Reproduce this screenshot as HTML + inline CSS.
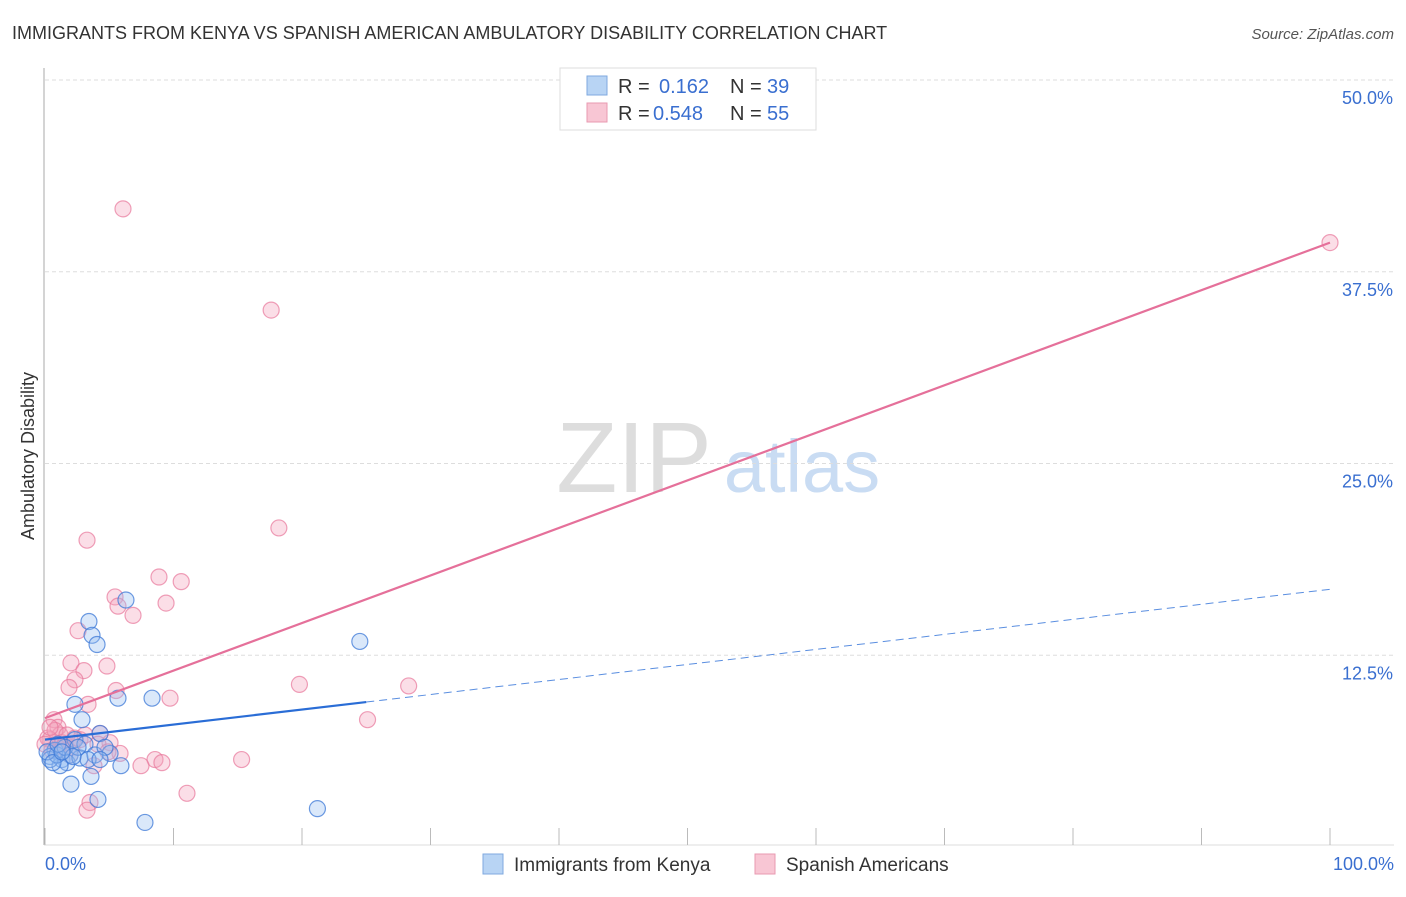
<!DOCTYPE html>
<html><head><meta charset="utf-8"><style>
body{margin:0;background:#fff;font-family:"Liberation Sans",sans-serif}
svg text{font-family:"Liberation Sans",sans-serif}
</style></head><body>
<svg id="chart" width="1406" height="892">
<text x="12" y="39" font-size="18" fill="#333">IMMIGRANTS FROM KENYA VS SPANISH AMERICAN AMBULATORY DISABILITY CORRELATION CHART</text>
<text x="1394" y="39" font-size="15" fill="#555" font-style="italic" text-anchor="end">Source: ZipAtlas.com</text>
<text x="34" y="456" font-size="18" fill="#333" transform="rotate(-90 34 456)" text-anchor="middle">Ambulatory Disability</text>
<text x="634" y="492" font-size="100" fill="#ddd" font-family="Liberation Serif" text-anchor="middle">ZIP</text>
<text x="802" y="492" font-size="74" fill="#c9dcf3" text-anchor="middle">atlas</text>
<g id="grid"></g><g id="axes"></g><g id="pts"></g><g id="lines"></g>
<g>
<rect x="560" y="68" width="256" height="62" fill="#fff" stroke="#ddd"/>
<rect x="587" y="76" width="20" height="19" fill="#b8d4f4" stroke="#7fa9df"/>
<rect x="587" y="103" width="20" height="19" fill="#f8c6d4" stroke="#e89ab1"/>
<text x="618" y="93" font-size="20" fill="#333">R = </text><text x="659" y="93" font-size="20" fill="#3a6fd0">0.162</text>
<text x="730" y="93" font-size="20" fill="#333">N = </text><text x="767" y="93" font-size="20" fill="#3a6fd0">39</text>
<text x="618" y="120" font-size="20" fill="#333">R = </text><text x="653" y="120" font-size="20" fill="#3a6fd0">0.548</text>
<text x="730" y="120" font-size="20" fill="#333">N = </text><text x="767" y="120" font-size="20" fill="#3a6fd0">55</text>
</g>
<g>
<rect x="483" y="854" width="20" height="20" fill="#b8d4f4" stroke="#7fa9df"/>
<text x="514" y="871" font-size="19" fill="#333">Immigrants from Kenya</text>
<rect x="755" y="854" width="20" height="20" fill="#f8c6d4" stroke="#e89ab1"/>
<text x="786" y="871" font-size="19" fill="#333">Spanish Americans</text>
</g>
</svg>
<script>
const yTicks=[12.5,25,37.5,50];
const yTickLabels=["12.5%","25.0%","37.5%","50.0%"];
const xTicks=[0,10,20,30,40,50,60,70,80,90,100];
const pinkX=[6.07,17.6,100,18.2,3.27,8.87,10.6,5.45,9.42,5.68,6.85,2.57,2.02,4.82,3.03,2.33,1.87,19.8,28.3,5.53,9.73,3.35,0.7,25.1,1.01,1.17,0.39,4.28,5.06,5.84,8.56,9.1,7.47,15.3,3.81,11.05,3.5,3.27,1.56,2.1,0.23,0.78,1.32,2.72,4.12,0.54,1.71,0,1.01,4.9,2.33,0.39,1.4,3.11,1.95];
const pinkY=[41.6,35.0,39.4,20.8,20.0,17.6,17.3,16.3,15.9,15.7,15.1,14.1,12.0,11.8,11.5,10.9,10.4,10.6,10.5,10.2,9.7,9.3,8.3,8.3,7.8,7.3,7.0,7.4,6.8,6.1,5.7,5.5,5.3,5.7,5.3,3.5,2.9,2.4,6.7,6.5,7.1,7.6,6.8,7.0,6.7,6.3,7.3,6.7,6.2,6.2,7.1,7.8,6.5,7.3,6.0];
const blueX=[6.3,3.42,3.66,4.05,24.5,8.33,5.68,2.33,2.88,4.28,2.33,3.11,0.78,0.39,1.32,1.95,1.71,1.17,2.72,5.06,3.89,5.91,3.58,2.02,4.12,7.78,21.2,0.39,0.93,1.56,0.16,2.57,4.67,3.35,0.62,2.18,4.28,1.01,1.32];
const blueY=[16.1,14.7,13.8,13.2,13.4,9.7,9.7,9.3,8.3,7.4,7.0,6.7,6.3,5.9,5.7,6.0,5.5,5.3,5.8,6.1,6.0,5.3,4.6,4.1,3.1,1.6,2.5,5.7,6.0,6.5,6.2,6.5,6.5,5.7,5.5,5.9,5.7,6.7,6.2];
const pinkTrend=[8.4,39.4];
const blueTrend=[7.0,16.8];
const blueSolidEnd=25;
const NS="http://www.w3.org/2000/svg";
const xS=v=>45+v*12.85, yS=v=>847-v*15.34;
function mk(t,a,p){const e=document.createElementNS(NS,t);for(const k in a)e.setAttribute(k,a[k]);document.getElementById(p).appendChild(e);return e;}
yTicks.forEach((t,i)=>{
 const l=mk('line',{x1:45,x2:1394,y1:yS(t),y2:yS(t),stroke:'#ddd','stroke-dasharray':'4,3'},'grid');
 
 
 const tx=mk('text',{x:1393,y:yS(t)+24,'font-size':18,fill:'#3a6fd0','text-anchor':'end'},'grid');
 tx.textContent=yTickLabels[i];
 
 
});
const ax=mk('line',{x1:44,x2:44,y1:68,y2:845,stroke:'#aaa'},'axes');


const bx=mk('line',{x1:44,x2:1394,y1:845,y2:845,stroke:'#ddd'},'axes');


xTicks.forEach(t=>{
 const l=mk('line',{x1:xS(t),x2:xS(t),y1:828,y2:845,stroke:'#bbb'},'axes');
 
 
});
[['0.0%',45,'start'],['100.0%',1394,'end']].forEach(a=>{
 const t=mk('text',{x:a[1],y:870,'font-size':18,fill:'#3a6fd0','text-anchor':a[2]},'axes');
 t.textContent=a[0];
 
 
});
pinkX.forEach((x,i)=>{
 const c=mk('circle',{cx:xS(x),cy:yS(pinkY[i]),r:8,fill:'rgba(244,160,186,0.35)',stroke:'rgba(232,120,155,0.7)','stroke-width':1.2},'pts');
 
 
});
blueX.forEach((x,i)=>{
 const c=mk('circle',{cx:xS(x),cy:yS(blueY[i]),r:8,fill:'rgba(150,190,240,0.35)',stroke:'rgba(60,120,215,0.75)','stroke-width':1.2},'pts');
 
 
});
const pl=mk('line',{x1:xS(0),y1:yS(pinkTrend[0]),x2:xS(100),y2:yS(pinkTrend[1]),stroke:'#e5709a','stroke-width':2.2},'lines');


const bAt=v=>blueTrend[0]+(blueTrend[1]-blueTrend[0])*v/100;
const bl=mk('line',{x1:xS(0),y1:yS(bAt(0)),x2:xS(blueSolidEnd),y2:yS(bAt(blueSolidEnd)),stroke:'#2a6dd6','stroke-width':2.2},'lines');


const bd=mk('line',{x1:xS(blueSolidEnd),y1:yS(bAt(blueSolidEnd)),x2:xS(100),y2:yS(bAt(100)),stroke:'#5a8ee0','stroke-width':1,'stroke-dasharray':'8,5'},'lines');


</script>
</body></html>
